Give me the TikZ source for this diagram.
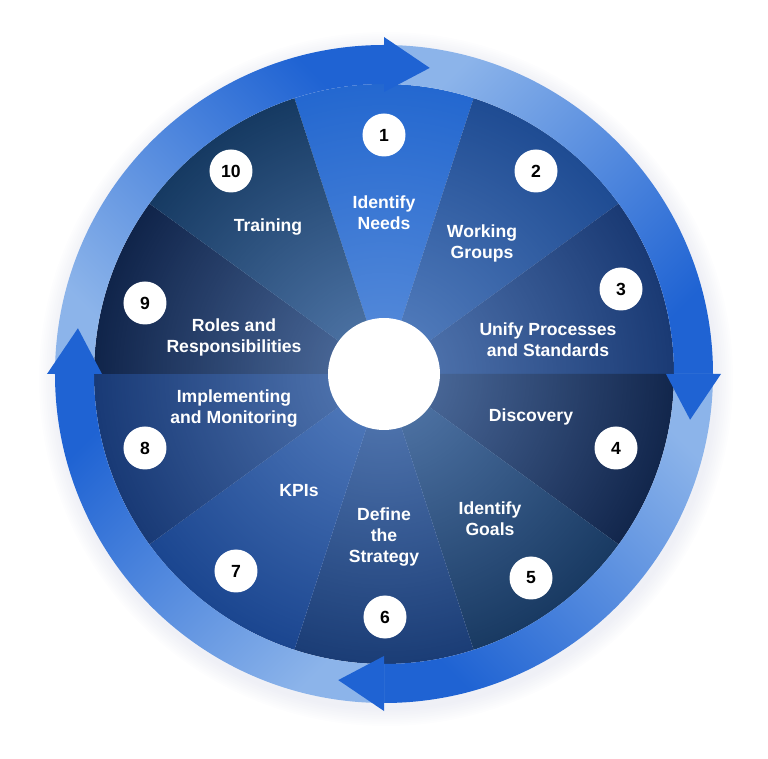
\documentclass[tikz,border=0pt]{standalone}
\usepackage{fontspec}
\setmainfont{Liberation Sans}
\usepackage{xcolor}
\usetikzlibrary{fadings}

\definecolor{seg1}{HTML}{2468D0}
\definecolor{seg2}{HTML}{1F4C93}
\definecolor{seg3}{HTML}{1A3A74}
\definecolor{seg4}{HTML}{12264C}
\definecolor{seg5}{HTML}{193A62}
\definecolor{seg6}{HTML}{1B3D76}
\definecolor{seg7}{HTML}{1B4690}
\definecolor{seg8}{HTML}{193A76}
\definecolor{seg9}{HTML}{10244A}
\definecolor{seg10}{HTML}{163A62}
\definecolor{glowblue}{HTML}{80A8E2}
\definecolor{ringlight}{HTML}{8CB4EA}
\definecolor{ringdark}{HTML}{1F63D3}
\definecolor{shadowblue}{HTML}{C4C8DE}

\tikzfading[name=glow fade, inner color=transparent!40, outer color=transparent!100]

\begin{document}
\begin{tikzpicture}[
  x=1pt, y=1pt,
  font=\fontsize{17.6}{21}\selectfont\bfseries,
  numdot/.style={circle, fill=white, text=black, minimum size=43pt, inner sep=0pt},
  steptext/.style={text=white, align=center, inner sep=0pt},
  hub/.style={circle, fill=white, minimum size=112pt, inner sep=0pt}
]
\useasboundingbox (-384,-385) rectangle (384,374);

% ===== Soft shadow =====
\foreach \i in {1,...,10}
  \fill[shadowblue, opacity=0.03] (2,-5) circle (329+\i*1.8);

% ===== Sectors =====
\foreach \k/\c in {1/seg1, 2/seg2, 3/seg3, 4/seg4, 5/seg5, 6/seg6, 7/seg7, 8/seg8, 9/seg9, 10/seg10}{
  \pgfmathsetmacro\m{90-36*(\k-1)}
  \fill[\c] (0,0) -- (\m+18:290) arc[start angle=\m+18, end angle=\m-18, radius=290] -- cycle;
}
\fill[glowblue, path fading=glow fade] (0,0) circle (290);

% ===== Ring arrows =====
\foreach \a in {180,90,0,-90}{
  \pgfmathsetmacro\sa{\a-45}
  \shade[top color=ringlight, bottom color=ringdark, shading angle=\sa]
    (\a:290) arc[start angle=\a, end angle=\a-90, radius=290]
    -- (\a-90:329) arc[start angle=\a-90, end angle=\a, radius=329] -- cycle;
}
\foreach \a in {180,90,0,-90}
  \fill[ringdark] (\a-90:282) -- (\a-98.5:309.5) -- (\a-90:337) -- cycle;

% ===== Hub =====
\node[hub] (hub) at (0,0) {};

% ===== Numbers =====
\node[numdot] (n1) at (0,239) {1};
\node[numdot] (n2) at (152,203) {2};
\node[numdot] (n3) at (237,85) {3};
\node[numdot] (n4) at (232,-74) {4};
\node[numdot] (n5) at (147,-204) {5};
\node[numdot] (n6) at (1,-243) {6};
\node[numdot] (n7) at (-148,-197) {7};
\node[numdot] (n8) at (-239,-74) {8};
\node[numdot] (n9) at (-239,71) {9};
\node[numdot] (n10) at (-153,203) {10};

% ===== Step labels =====
\node[steptext] (needs) at (0,161) {Identify\\Needs};
\node[steptext] (groups) at (98,131) {Working\\Groups};
\node[steptext] (unify) at (164,34) {Unify Processes\\and Standards};
\node[steptext] (discovery) at (147,-43) {Discovery};
\node[steptext] (goals) at (106,-145) {Identify\\Goals};
\node[steptext] (strategy) at (0,-163) {Define\\the\\Strategy};
\node[steptext] (kpis) at (-85,-117) {KPIs};
\node[steptext] (monitor) at (-150,-34) {Implementing\\and Monitoring};
\node[steptext] (roles) at (-150,37) {Roles and\\Responsibilities};
\node[steptext] (training) at (-116,147) {Training};

\end{tikzpicture}
\end{document}
